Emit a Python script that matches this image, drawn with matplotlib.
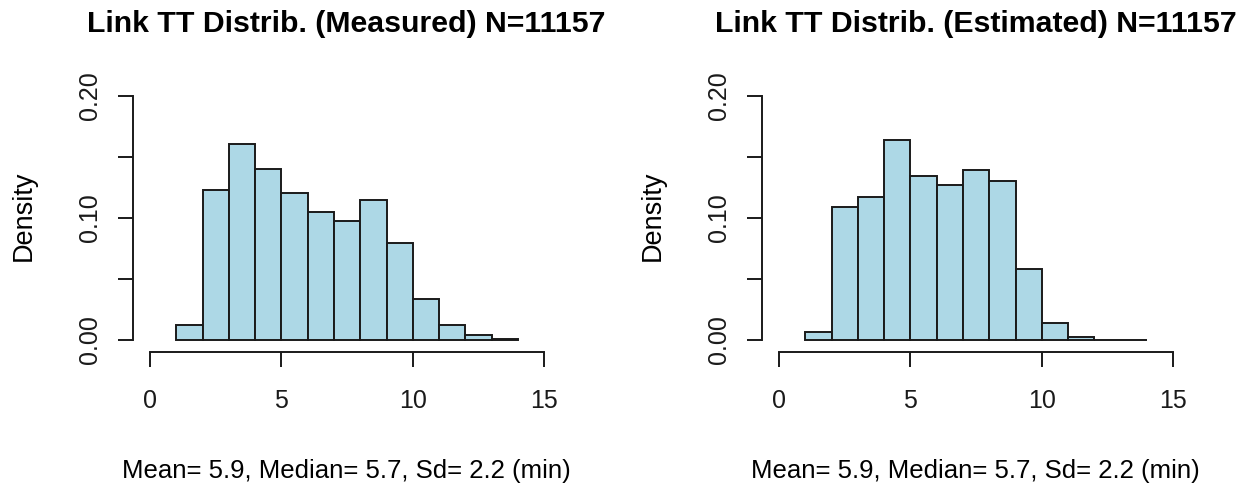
import matplotlib
matplotlib.use("Agg")
import matplotlib.pyplot as plt

# histogram bins (minutes) and densities
bin_edges = [1, 2, 3, 4, 5, 6, 7, 8, 9, 10, 11, 12, 13, 14]
measured = [0.0123, 0.1230, 0.1607, 0.1399, 0.1202, 0.1046, 0.0975,
            0.1145, 0.0795, 0.0336, 0.0123, 0.0038, 0.0011]
estimated = [0.0068, 0.1090, 0.1172, 0.1634, 0.1342, 0.1270, 0.1396,
             0.1301, 0.0585, 0.0137, 0.0025, 0.0003, 0.0001]
titles = ["Link TT Distrib. (Measured) N=11157",
          "Link TT Distrib. (Estimated) N=11157"]
xlabel = "Mean= 5.9, Median= 5.7, Sd= 2.2 (min)"
xticks = [0, 5, 10, 15]
yticks = [0.00, 0.05, 0.10, 0.15, 0.20]
yticklabels = ["0.00", "", "0.10", "", "0.20"]

plt.rcParams["font.family"] = ["Liberation Sans", "DejaVu Sans"]

W, H = 1252, 486
fig = plt.figure(figsize=(W / 100, H / 100), dpi=100)


def _panel(left_px, values, title):
    ax = fig.add_axes([left_px / W, (H - 352) / H, 427 / W, 266 / H])
    lefts = bin_edges[:-1]
    widths = [b - a for a, b in zip(bin_edges[:-1], bin_edges[1:])]
    ax.bar(lefts, values, width=widths, align="edge", color="#add8e6",
           edgecolor="#1a1a1a", linewidth=1.4)
    ax.set_xlim(-0.647, 15.6)
    ax.set_ylim(-0.0098, 0.208)
    for s in ("top", "right"):
        ax.spines[s].set_visible(False)
    ax.spines["left"].set_bounds(0, 0.2)
    ax.spines["bottom"].set_bounds(0, 15)
    for s in ("left", "bottom"):
        ax.spines[s].set_linewidth(1.4)
        ax.spines[s].set_color("#1a1a1a")
    ax.set_xticks(xticks)
    ax.set_yticks(yticks)
    ax.set_yticklabels(yticklabels)
    ax.tick_params(length=11, width=1.4, color="#1a1a1a", labelsize=18,
                   labelcolor="#1a1a1a")
    ax.tick_params(axis="x", pad=16)
    ax.tick_params(axis="y", pad=11, labelrotation=90)
    for lab in ax.get_yticklabels():
        lab.set_va("center")
    ax.set_title(title, fontsize=21.8, fontweight="bold", y=1.203, pad=0)
    ax.set_xlabel(xlabel, fontsize=18.5, va="baseline")
    ax.xaxis.set_label_coords(0.5, -0.474)
    ax.set_ylabel("Density", fontsize=19.5, va="center")
    ax.yaxis.set_label_coords(-0.255, 0.511)
    return ax


_panel(133, measured, titles[0])
_panel(762, estimated, titles[1])

fig.savefig("out.png", dpi=100)
